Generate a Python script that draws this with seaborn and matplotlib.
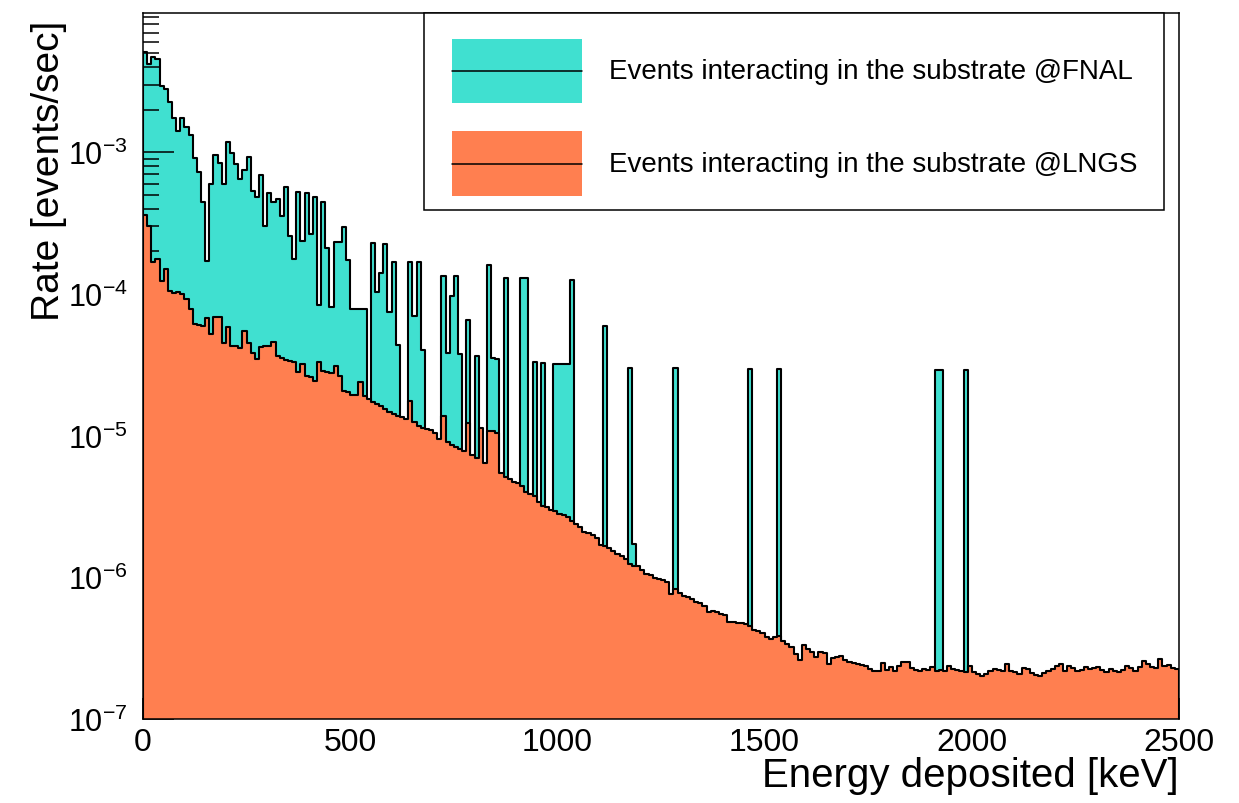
import numpy as np
import pandas as pd
import matplotlib
matplotlib.use("Agg")
import matplotlib.pyplot as plt
import seaborn as sns
from matplotlib.patches import Rectangle
from matplotlib.lines import Line2D
from matplotlib.ticker import LogLocator, MultipleLocator, FixedLocator, NullFormatter

# ---------------- data (10 keV bins, 0 - 2500 keV) ----------------
energy_min_kev, energy_max_kev, bin_width_kev = 0, 2500, 10

rate_fnal = [
    5.12e-3, 4.19e-3, 4.68e-3, 4.55e-3, 2.95e-3, 2.79e-3, 2.25e-3, 1.76e-3, 1.42e-3, 1.76e-3,
    1.52e-3, 1.32e-3, 9.06e-4, 7.21e-4, 4.47e-4, 1.72e-4, 5.96e-4, 9.55e-4, 8.35e-4, 5.96e-4,
    1.19e-3, 9.87e-4, 8.25e-4, 6.47e-4, 7.52e-4, 9.29e-4, 5.35e-4, 4.81e-4, 6.94e-4, 3.00e-4,
    5.13e-4, 4.47e-4, 4.68e-4, 3.56e-4, 5.71e-4, 2.57e-4, 1.76e-4, 5.26e-4, 2.37e-4, 5.13e-4,
    2.65e-4, 4.81e-4, 8.35e-5, 4.47e-4, 2.10e-4, 8.12e-5, 2.34e-4, 2.31e-4, 2.95e-4, 1.73e-4,
    7.82e-5, 7.82e-5, 7.82e-5, 7.82e-5, 0, 2.28e-4, 1.04e-4, 1.40e-4, 2.25e-4, 7.42e-5,
    1.67e-4, 4.36e-5, 0, 0, 1.67e-4, 7.02e-5, 1.67e-4, 4.02e-5, 0, 0,
    0, 0, 1.34e-4, 3.86e-5, 9.66e-5, 1.33e-4, 3.80e-5, 0, 6.54e-5, 0,
    3.62e-5, 0, 0, 1.59e-4, 3.53e-5, 3.47e-5, 0, 1.29e-4, 0, 0,
    0, 1.29e-4, 1.29e-4, 0, 3.29e-5, 0, 3.25e-5, 0, 0, 3.20e-5,
    3.20e-5, 3.20e-5, 3.20e-5, 1.26e-4, 0, 0, 0, 0, 0, 0,
    0, 5.96e-5, 0, 0, 0, 0, 0, 3.02e-5, 1.72e-6, 0,
    0, 0, 0, 0, 0, 0, 0, 0, 2.98e-5, 0,
    0, 0, 0, 0, 0, 0, 0, 0, 0, 0,
    0, 0, 0, 0, 0, 0, 2.95e-5, 0, 0, 0,
    0, 0, 0, 2.95e-5, 0, 0, 0, 0, 0, 0,
    0, 0, 0, 0, 0, 0, 0, 0, 0, 0,
    0, 0, 0, 0, 0, 0, 0, 0, 0, 0,
    0, 0, 0, 0, 0, 0, 0, 0, 0, 0,
    0, 2.93e-5, 2.93e-5, 0, 0, 0, 0, 0, 2.93e-5, 0,
    0, 0, 0, 0, 0, 0, 0, 0, 0, 0,
    0, 0, 0, 0, 0, 0, 0, 0, 0, 0,
    0, 0, 0, 0, 0, 0, 0, 0, 0, 0,
    0, 0, 0, 0, 0, 0, 0, 0, 0, 0,
    0, 0, 0, 0, 0, 0, 0, 0, 0, 0,
]

rate_lngs = [
    3.61e-4, 3.03e-4, 1.67e-4, 1.76e-4, 1.24e-4, 1.50e-4, 1.05e-4, 1.01e-4, 1.03e-4, 1.00e-4,
    9.20e-5, 7.82e-5, 6.13e-5, 6.03e-5, 5.91e-5, 6.73e-5, 5.21e-5, 6.84e-5, 6.91e-5, 4.50e-5,
    5.81e-5, 4.31e-5, 4.27e-5, 4.15e-5, 5.50e-5, 4.50e-5, 3.83e-5, 3.47e-5, 4.20e-5, 4.31e-5,
    4.31e-5, 4.55e-5, 3.63e-5, 3.53e-5, 3.43e-5, 3.38e-5, 3.29e-5, 2.80e-5, 3.20e-5, 2.65e-5,
    2.58e-5, 2.44e-5, 3.29e-5, 2.87e-5, 2.80e-5, 2.77e-5, 3.11e-5, 2.65e-5, 2.07e-5, 2.02e-5,
    1.93e-5, 1.93e-5, 2.39e-5, 1.90e-5, 1.81e-5, 1.73e-5, 1.67e-5, 1.61e-5, 1.54e-5, 1.47e-5,
    1.42e-5, 1.38e-5, 1.36e-5, 1.32e-5, 1.76e-5, 1.25e-5, 1.17e-5, 1.14e-5, 1.11e-5, 1.10e-5,
    1.05e-5, 9.46e-6, 1.38e-5, 8.97e-6, 8.58e-6, 8.27e-6, 8.04e-6, 7.82e-6, 1.22e-5, 7.30e-6,
    6.92e-6, 1.13e-5, 6.38e-6, 1.08e-5, 1.07e-5, 1.04e-5, 5.45e-6, 5.13e-6, 4.94e-6, 4.68e-6,
    4.63e-6, 4.43e-6, 3.98e-6, 3.87e-6, 3.77e-6, 3.42e-6, 3.20e-6, 3.12e-6, 3.00e-6, 2.95e-6,
    2.80e-6, 2.75e-6, 2.65e-6, 2.51e-6, 2.38e-6, 2.25e-6, 2.10e-6, 2.05e-6, 1.99e-6, 1.88e-6,
    1.69e-6, 1.67e-6, 1.60e-6, 1.54e-6, 1.46e-6, 1.42e-6, 1.35e-6, 1.24e-6, 1.21e-6, 1.21e-6,
    1.13e-6, 1.05e-6, 1.04e-6, 9.84e-7, 9.72e-7, 9.62e-7, 9.31e-7, 7.62e-7, 8.27e-7, 7.75e-7,
    7.42e-7, 7.23e-7, 7.03e-7, 6.73e-7, 6.59e-7, 6.30e-7, 5.66e-7, 5.81e-7, 5.66e-7, 5.51e-7,
    5.42e-7, 4.86e-7, 4.81e-7, 4.76e-7, 4.76e-7, 4.68e-7, 4.51e-7, 4.27e-7, 4.20e-7, 4.05e-7,
    3.77e-7, 3.67e-7, 3.77e-7, 3.83e-7, 3.57e-7, 3.38e-7, 3.21e-7, 2.88e-7, 2.62e-7, 3.33e-7,
    3.12e-7, 2.96e-7, 2.73e-7, 2.96e-7, 2.92e-7, 2.44e-7, 2.68e-7, 2.73e-7, 2.80e-7, 2.61e-7,
    2.54e-7, 2.48e-7, 2.44e-7, 2.40e-7, 2.35e-7, 2.25e-7, 2.19e-7, 2.19e-7, 2.48e-7, 2.23e-7,
    2.32e-7, 2.19e-7, 2.38e-7, 2.54e-7, 2.54e-7, 2.28e-7, 2.23e-7, 2.19e-7, 2.25e-7, 2.23e-7,
    2.32e-7, 2.19e-7, 2.23e-7, 2.19e-7, 2.38e-7, 2.25e-7, 2.23e-7, 2.19e-7, 2.14e-7, 2.38e-7,
    2.16e-7, 2.08e-7, 2.02e-7, 2.08e-7, 2.19e-7, 2.25e-7, 2.23e-7, 2.19e-7, 2.44e-7, 2.19e-7,
    2.16e-7, 2.08e-7, 2.28e-7, 2.25e-7, 2.11e-7, 2.04e-7, 2.00e-7, 2.11e-7, 2.19e-7, 2.25e-7,
    2.38e-7, 2.44e-7, 2.19e-7, 2.38e-7, 2.28e-7, 2.19e-7, 2.23e-7, 2.32e-7, 2.25e-7, 2.28e-7,
    2.32e-7, 2.23e-7, 2.16e-7, 2.25e-7, 2.19e-7, 2.14e-7, 2.23e-7, 2.38e-7, 2.28e-7, 2.19e-7,
    2.32e-7, 2.58e-7, 2.44e-7, 2.32e-7, 2.28e-7, 2.65e-7, 2.38e-7, 2.40e-7, 2.28e-7, 2.25e-7,
]

legend_labels = [
    "Events interacting in the substrate @FNAL",
    "Events interacting in the substrate @LNGS",
]
x_label = "Energy deposited [keV]"
y_label = "Rate [events/sec]"
x_major_ticks = [0, 500, 1000, 1500, 2000, 2500]

TEAL = "#40E0D0"
CORAL = "#FF7F50"

# ---------------- style ----------------
sns.set_theme(style="white")
plt.rcParams["font.family"] = ["Liberation Sans", "DejaVu Sans"]
plt.rcParams["mathtext.fontset"] = "custom"
plt.rcParams["mathtext.rm"] = "Liberation Sans"
plt.rcParams["mathtext.it"] = "Liberation Sans:italic"
plt.rcParams["mathtext.bf"] = "Liberation Sans:bold"
plt.rcParams["axes.unicode_minus"] = True

W, H = 1239, 804
fig = plt.figure(figsize=(W / 100, H / 100), dpi=100)
ax_l, ax_r, ax_t, ax_b = 143, 1179, 13.5, 720
ax = fig.add_axes([ax_l / W, 1 - ax_b / H, (ax_r - ax_l) / W, (ax_b - ax_t) / H])

n_bins = len(rate_fnal)
centers = energy_min_kev + bin_width_kev * (np.arange(n_bins) + 0.5)
df = pd.DataFrame({"energy": centers, "fnal": rate_fnal, "lngs": rate_lngs})

common = dict(x="energy", binwidth=bin_width_kev,
              binrange=(energy_min_kev, energy_max_kev), element="step", fill=True,
              alpha=1, edgecolor="black", linewidth=1.5, ax=ax)
# FNAL drawn first (below the axis ticks), LNGS drawn on top of everything but the frame
sns.histplot(data=df, weights="fnal", color=TEAL, zorder=1, **common)
sns.histplot(data=df, weights="lngs", color=CORAL, zorder=3, **common)

ax.set_axisbelow(False)  # ticks (zorder 2.5) above FNAL, below LNGS
ax.set_yscale("log")
ax.set_xlim(energy_min_kev, energy_max_kev)
ax.set_ylim(1e-7, 9.7e-3)

# ticks ROOT style
ax.xaxis.set_major_locator(FixedLocator(x_major_ticks))
ax.xaxis.set_minor_locator(MultipleLocator(50))
ax.yaxis.set_major_locator(LogLocator(base=10, numticks=20))
ax.yaxis.set_minor_locator(LogLocator(base=10, subs=np.arange(2, 10), numticks=60))
ax.yaxis.set_minor_formatter(NullFormatter())
ax.tick_params(axis="both", which="both", direction="in", top=False, right=False,
               left=True, bottom=True, width=1.1, color="black", labelcolor="black")
ax.tick_params(axis="y", which="major", length=22.3, pad=11, labelsize=22)
ax.tick_params(axis="y", which="minor", length=11.2)
ax.tick_params(axis="x", which="major", length=15.2, pad=6, labelsize=23)
ax.tick_params(axis="x", which="minor", length=7.6)

for s in ax.spines.values():
    s.set_color("black")
    s.set_linewidth(1.1)
    s.set_zorder(5)

ax.set_xlabel(x_label, loc="right", fontsize=29, color="black")
ax.xaxis.set_label_coords(1.0, -(757 - ax_b) / (ax_b - ax_t))
ax.set_ylabel(y_label, loc="top", fontsize=28, color="black")
ax.yaxis.set_label_coords(-(143 - 67) / (ax_r - ax_l), 0.99)

# ---------------- legend (ROOT TLegend look) ----------------
def fx(x):
    return x / W

def fy(y):
    return 1 - y / H

fig.add_artist(Rectangle((fx(424), fy(211)), fx(1164) - fx(424), fy(14) - fy(211),
                         transform=fig.transFigure, facecolor="white",
                         edgecolor="black", linewidth=1.1, zorder=10))
for (top, bot), col, lab in zip([(40, 104), (132, 197)], [TEAL, CORAL], legend_labels):
    fig.add_artist(Rectangle((fx(452), fy(bot)), fx(582) - fx(452), fy(top) - fy(bot),
                             transform=fig.transFigure, facecolor=col,
                             edgecolor="none", zorder=11))
    mid = (top + bot) / 2
    fig.add_artist(Line2D([fx(452), fx(582)], [fy(mid), fy(mid)],
                          transform=fig.transFigure, color="black", linewidth=1.1, zorder=12))
    fig.text(fx(609), fy(mid), lab, ha="left", va="center", fontsize=20,
             color="black", zorder=12)

fig.savefig("out.png", dpi=100)
